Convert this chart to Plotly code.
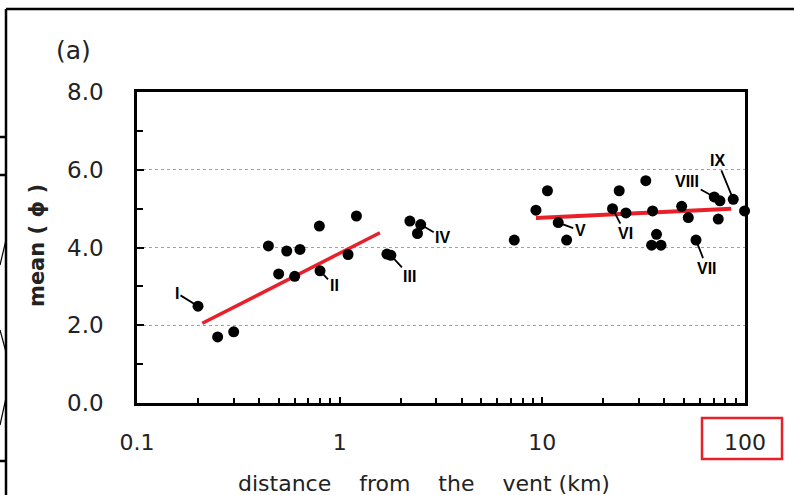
import numpy as np
import plotly.graph_objects as go

# ---------------- data ----------------
distance_km = [0.20, 0.25, 0.30, 0.445, 0.548, 0.637, 0.50, 0.60, 0.794, 0.80,
               1.21, 1.10, 1.71, 1.79, 2.22, 2.51, 2.42,
               7.27, 9.3, 10.6, 11.98, 13.18, 22.2, 23.95, 25.85, 32.4, 35.0,
               36.6, 34.6, 38.5, 48.7, 52.5, 57.3, 70.5, 75.2, 73.8, 87.5, 99.5]
mean_phi = [2.49, 1.70, 1.83, 4.04, 3.91, 3.95, 3.32, 3.26, 4.55, 3.40,
            4.81, 3.82, 3.83, 3.80, 4.68, 4.59, 4.36,
            4.19, 4.96, 5.46, 4.64, 4.19, 5.00, 5.46, 4.89, 5.72, 4.94,
            4.34, 4.06, 4.06, 5.06, 4.77, 4.19, 5.30, 5.20, 4.73, 5.24, 4.94]

fit_near_x = [0.21, 1.58]
fit_near_y = [2.05, 4.38]
fit_far_x = [9.3, 85.5]
fit_far_y = [4.76, 5.00]

label_names = ["I", "II", "III", "IV", "V", "VI", "VII", "VIII", "IX"]
label_x = [0.20, 0.80, 1.79, 2.51, 11.98, 22.2, 57.3, 70.5, 87.5]
label_y = [2.49, 3.40, 3.80, 4.59, 4.64, 5.00, 4.19, 5.30, 5.24]

x_tickvals = [0.1, 1, 10, 100]
x_ticktext = ["0.1", "1", "10", "100"]
y_tickvals = [0, 2, 4, 6, 8]
y_ticktext = ["0.0", "2.0", "4.0", "6.0", "8.0"]

# ---------------- styling ----------------
FONT = "DejaVu Sans"
NARROW = "Liberation Sans Narrow, Arial Narrow, Liberation Sans, sans-serif"
label_offsets = [(-21, -13), (14, 15), (19, 21), (22, 13), (22, 8),
                 (13, 25), (11, 28), (-27, -15), (-16, -39)]

L, R, T, B = 137, 49, 92, 92
W, H = 794, 495
PW, PH = W - L - R, H - T - B


def px(x):
    return (x - L) / PW


def py(y):
    return (H - B - y) / PH


fig = go.Figure()

fig.add_trace(go.Scatter(x=fit_near_x, y=fit_near_y, mode="lines",
                         line=dict(color="#e8202a", width=3.5),
                         hoverinfo="skip", showlegend=False))
fig.add_trace(go.Scatter(x=fit_far_x, y=fit_far_y, mode="lines",
                         line=dict(color="#e8202a", width=4),
                         hoverinfo="skip", showlegend=False))
fig.add_trace(go.Scatter(x=distance_km, y=mean_phi, mode="markers",
                         marker=dict(color="black", size=11),
                         cliponaxis=False, showlegend=False))

minor_vals = [m * 10.0 ** e for e in (-1, 0, 1) for m in range(2, 10)]

fig.update_xaxes(type="log", range=[-1, 2],
                 tickvals=x_tickvals, ticktext=x_ticktext,
                 ticks="inside", ticklen=6, tickwidth=1.5, tickcolor="black",
                 ticklabelstandoff=18,
                 minor=dict(tickvals=minor_vals, ticks="inside", ticklen=5,
                            tickwidth=1.5, tickcolor="black", showgrid=False),
                 showgrid=False, zeroline=False,
                 showline=True, mirror=True, linewidth=2.5, linecolor="black",
                 tickfont=dict(family=FONT, size=22, color="#222"))
fig.update_yaxes(range=[0, 8], tickvals=y_tickvals, ticktext=y_ticktext,
                 ticks="inside", ticklen=7, tickwidth=1.5, tickcolor="black",
                 ticklabelstandoff=26,
                 minor=dict(dtick=1, ticks="inside", ticklen=6, tickwidth=1.5,
                            tickcolor="black", showgrid=False),
                 showgrid=True, gridcolor="#a0a0a0", griddash="dot", gridwidth=1.3,
                 zeroline=False,
                 showline=True, mirror=True, linewidth=2.5, linecolor="black",
                 tickfont=dict(family=FONT, size=23, color="#222"))

annotations = []
for name, lx, ly, (ax, ay) in zip(label_names, label_x, label_y, label_offsets):
    annotations.append(dict(x=np.log10(lx), y=ly, xref="x", yref="y",
                            text="<b>" + name + "</b>", showarrow=True, arrowhead=0,
                            arrowwidth=1.8, arrowcolor="black",
                            ax=ax, ay=ay, standoff=0, startstandoff=0,
                            font=dict(family=NARROW, size=16, color="black")))

annotations.append(dict(x=px(424), y=py(483), xref="paper", yref="paper",
                        text="distance\u00a0\u00a0\u00a0 from\u00a0\u00a0\u00a0 the\u00a0\u00a0\u00a0 vent (km)",
                        showarrow=False, xanchor="center", yanchor="middle",
                        font=dict(family=FONT, size=22, color="#222")))
annotations.append(dict(x=px(37), y=py(246), xref="paper", yref="paper",
                        text="<b>mean ( ϕ )</b>", textangle=-90,
                        showarrow=False, xanchor="center", yanchor="middle",
                        font=dict(family=FONT, size=21, color="#222")))
annotations.append(dict(x=px(73), y=py(50), xref="paper", yref="paper",
                        text="(a)", showarrow=False,
                        xanchor="center", yanchor="middle",
                        font=dict(family=FONT, size=25, color="#222")))

shapes = [
    # red highlight box around the "100" label
    dict(type="rect", xref="paper", yref="paper",
         x0=px(702), x1=px(782), y0=py(459), y1=py(418),
         line=dict(color="#e8202a", width=2.5)),
    # outer frame of the figure panel
    dict(type="line", xref="paper", yref="paper",
         x0=px(6), x1=px(800), y0=py(9), y1=py(9),
         line=dict(color="black", width=2.5)),
    dict(type="line", xref="paper", yref="paper",
         x0=px(6), x1=px(6), y0=py(9), y1=py(500),
         line=dict(color="black", width=2.5)),
]
for sy in (137, 175, 461):
    shapes.append(dict(type="line", xref="paper", yref="paper",
                       x0=px(-2), x1=px(6), y0=py(sy), y1=py(sy),
                       line=dict(color="black", width=2.5)))
for (x0, y0, x1, y1) in [(6, 240, 0, 265), (0, 330, 6, 352), (6, 398, 0, 425)]:
    shapes.append(dict(type="line", xref="paper", yref="paper",
                       x0=px(x0), x1=px(x1), y0=py(y0), y1=py(y1),
                       line=dict(color="black", width=1.2)))

fig.update_layout(width=W, height=H,
                  margin=dict(l=L, r=R, t=T, b=B, pad=0),
                  paper_bgcolor="white", plot_bgcolor="white",
                  annotations=annotations, shapes=shapes,
                  font=dict(family=FONT))

fig.write_html("out.html",
               config={"displayModeBar": False},
               post_script="document.body.style.margin='0';"
                           "document.body.style.overflow='hidden';")
